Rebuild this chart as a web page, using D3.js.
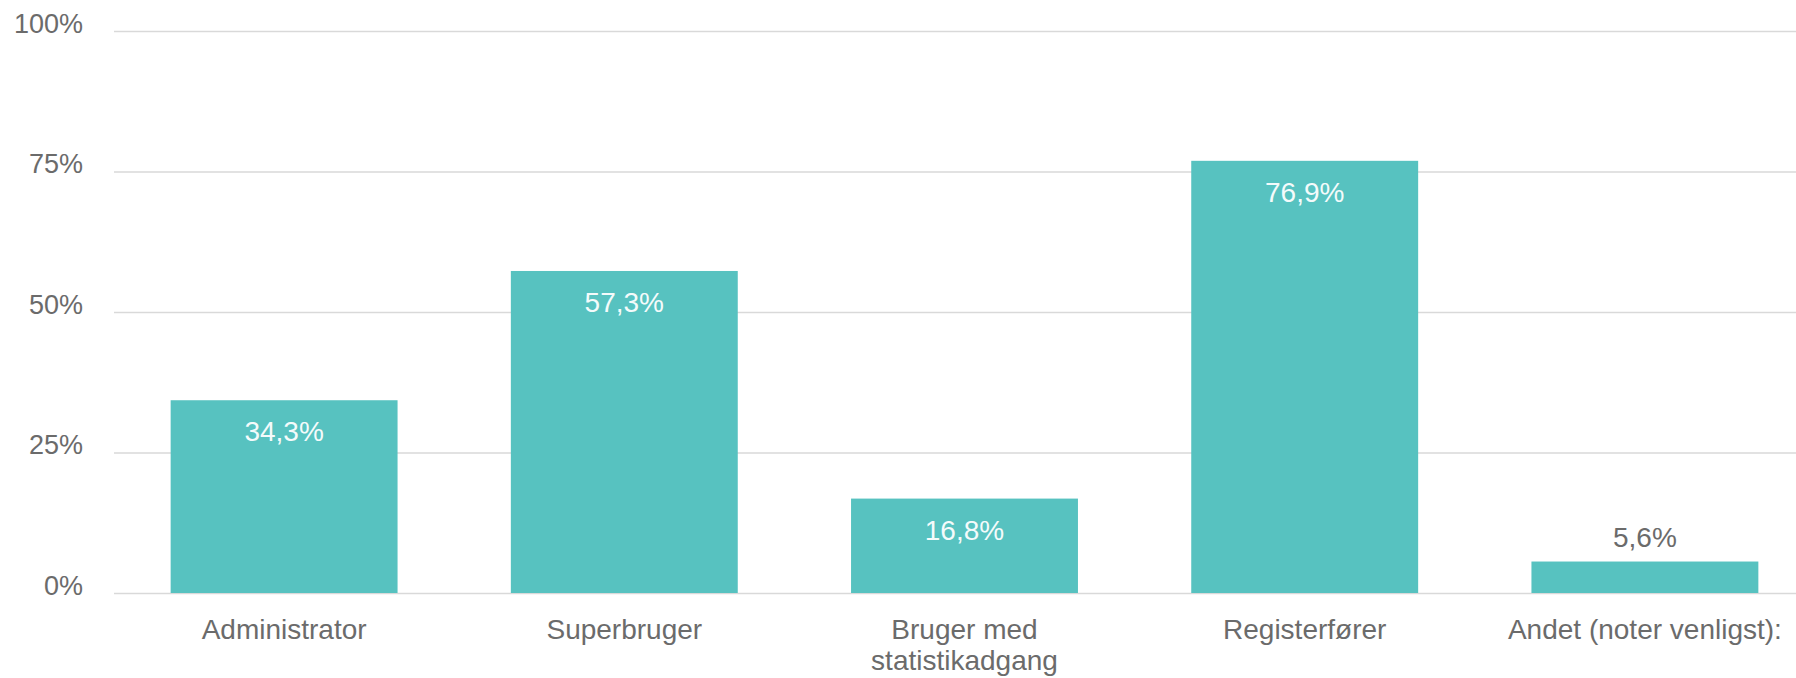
<!DOCTYPE html>
<html>
<head>
<meta charset="utf-8">
<script src="https://cdn.jsdelivr.net/npm/d3@7"></script>
<style>
  body { margin: 0; background: #fff; }
  text { font-family: "Liberation Sans", Arial, sans-serif; }
</style>
</head>
<body>
<div id="wrapper"></div>
<script>
const categories = ["Administrator", "Superbruger", "Bruger med statistikadgang", "Registerfører", "Andet (noter venligst):"]
const values = [34.3, 57.3, 16.8, 76.9, 5.6]
const yTicks = [0, 25, 50, 75, 100]

function drawBarChart() {
  const dataset = categories.map((c, i) => ({ category: c, value: values[i] }))
  const xAccessor = d => d.category
  const yAccessor = d => d.value

  let dimensions = {
    width: 1796,
    height: 678,
    margin: {
      top: 31,
      right: -19,
      bottom: 85,
      left: 114,
    },
  }
  dimensions.boundedWidth = dimensions.width - dimensions.margin.left - dimensions.margin.right
  dimensions.boundedHeight = dimensions.height - dimensions.margin.top - dimensions.margin.bottom

  const dkLocale = d3.formatLocale({ decimal: ",", thousands: ".", grouping: [3], currency: ["", " kr."] })
  const pctFormat = d => dkLocale.format(".1f")(d) + "%"

  // Draw canvas
  const wrapper = d3.select("#wrapper")
    .append("svg")
    .attr("width", dimensions.width)
    .attr("height", dimensions.height)

  const bounds = wrapper.append("g")
    .attr("transform", `translate(${dimensions.margin.left},${dimensions.margin.top})`)

  // Scales
  const xScale = d3.scaleBand()
    .domain(categories)
    .range([0, dimensions.boundedWidth])
    .paddingInner(0.333)
    .paddingOuter(0.1665)

  const yScale = d3.scaleLinear()
    .domain([0, 100])
    .range([dimensions.boundedHeight, 0])

  // Gridlines + y labels
  const yAxisGenerator = d3.axisLeft(yScale)
    .tickValues(yTicks)
    .tickSize(-(dimensions.width - dimensions.margin.left))
    .tickFormat(d => d + "%")

  const yAxis = bounds.append("g").call(yAxisGenerator)
  yAxis.select(".domain").remove()
  yAxis.selectAll(".tick line")
    .attr("stroke", "#d9d9d9")
    .attr("stroke-width", 1.5)
  yAxis.selectAll(".tick text")
    .attr("x", -31)
    .attr("dy", "1px")
    .attr("fill", "#6b6b6b")
    .style("font-size", "27px")
    .style("font-family", "'Liberation Sans', Arial, sans-serif")

  // Bars
  bounds.append("g")
    .selectAll("rect")
    .data(dataset)
    .join("rect")
    .attr("x", d => xScale(xAccessor(d)))
    .attr("y", d => yScale(yAccessor(d)))
    .attr("width", xScale.bandwidth())
    .attr("height", d => dimensions.boundedHeight - yScale(yAccessor(d)))
    .attr("fill", "#57c2c0")

  // Value labels
  bounds.append("g")
    .selectAll("text")
    .data(dataset)
    .join("text")
    .attr("x", d => xScale(xAccessor(d)) + xScale.bandwidth() / 2)
    .attr("y", d => {
      const h = dimensions.boundedHeight - yScale(yAccessor(d))
      return h > 50 ? yScale(yAccessor(d)) + 41 : yScale(yAccessor(d)) - 15
    })
    .attr("text-anchor", "middle")
    .attr("fill", d => (dimensions.boundedHeight - yScale(yAccessor(d))) > 50 ? "#f4fbfb" : "#6b6b6b")
    .style("font-size", "28px")
    .text(d => pctFormat(yAccessor(d)))

  // X axis labels
  const xAxisGenerator = d3.axisBottom(xScale).tickSize(0).tickPadding(0)
  const xAxis = bounds.append("g")
    .attr("transform", `translate(0,${dimensions.boundedHeight})`)
    .call(xAxisGenerator)
  xAxis.select(".domain").remove()
  xAxis.selectAll(".tick text")
    .attr("fill", "#6b6b6b")
    .attr("y", 46)
    .attr("dy", 0)
    .style("font-size", "28px")
    .style("font-family", "'Liberation Sans', Arial, sans-serif")
    .call(wrap, 300)
}

function wrap(texts, width) {
  texts.each(function() {
    const text = d3.select(this)
    const words = text.text().split(/\s+/)
    const y = text.attr("y")
    text.text(null)
    let line = []
    let lineNumber = 0
    let tspan = text.append("tspan").attr("x", 0).attr("y", y)
    words.forEach(word => {
      line.push(word)
      tspan.text(line.join(" "))
      if (tspan.node().getComputedTextLength() > width && line.length > 1) {
        line.pop()
        tspan.text(line.join(" "))
        line = [word]
        lineNumber++
        tspan = text.append("tspan").attr("x", 0).attr("y", y).attr("dy", lineNumber * 31 + "px").text(word)
      }
    })
  })
}

drawBarChart()
</script>
</body>
</html>
